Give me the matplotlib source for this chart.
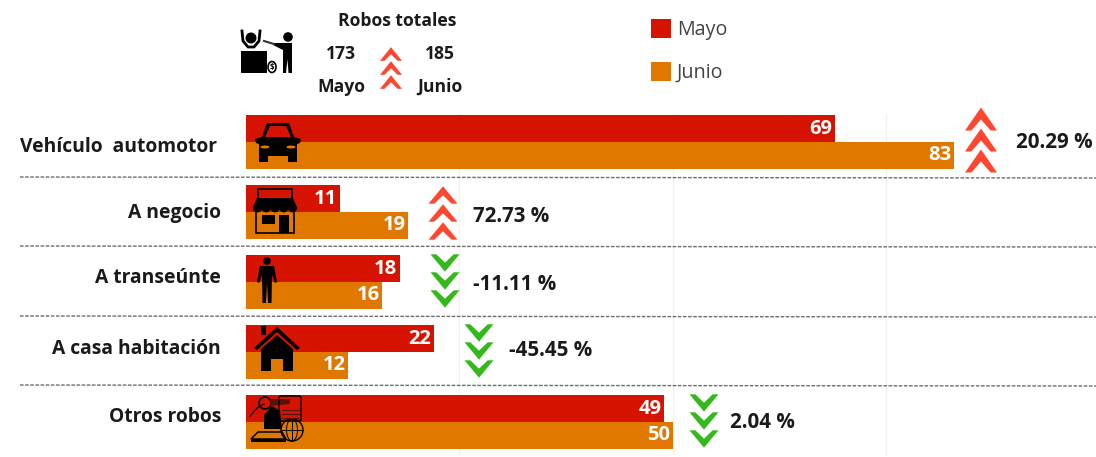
import matplotlib
matplotlib.use("Agg")
import matplotlib.pyplot as plt
from matplotlib.patches import Polygon, Rectangle, Circle, Ellipse, FancyBboxPatch

categories = ["Vehículo  automotor", "A negocio", "A transeúnte", "A casa habitación", "Otros robos"]
mayo = [69, 11, 18, 22, 49]
junio = [83, 19, 16, 12, 50]
cambio = ["20.29 %", "72.73 %", "-11.11 %", "-45.45 %", "2.04 %"]
sube = [True, True, False, False, False]
total_mayo = 173
total_junio = 185

RED = "#d61300"
ORANGE = "#e07800"
UP = "#ff4630"
DOWN = "#35b81c"
INK = "#1a1a1a"
W, H = 1096, 457

plt.rcParams["font.family"] = ["Open Sans", "DejaVu Sans"]
fig = plt.figure(figsize=(W / 100, H / 100), dpi=100, facecolor="white")

# bars: one row is 70 px, 8.53 px per unit
ax = fig.add_axes([246 / W, 1 - 457 / H, (W - 246) / W, 350 / H])
ax.set_xlim(0, (W - 246) / 8.53)
ax.set_ylim(len(categories), 0)
ax.axis("off")
for v in [25, 50, 75]:
    ax.plot([v, v], [0.1, 4.95], color="#f0f0f0", lw=0.9, zorder=0)
bar_h = 0.38
for i in range(len(categories)):
    ax.barh(i + 0.5 - bar_h / 2 - 0.005, mayo[i], height=bar_h, color=RED, zorder=2)
    ax.barh(i + 0.5 + bar_h / 2 + 0.005, junio[i], height=bar_h, color=ORANGE, zorder=2)
    ax.text(mayo[i] - 0.3, i + 0.5 - bar_h / 2, str(mayo[i]), color="white", fontsize=14.5,
            fontweight="bold", ha="right", va="center", zorder=3)
    ax.text(junio[i] - 0.3, i + 0.5 + bar_h / 2, str(junio[i]), color="white", fontsize=14.5,
            fontweight="bold", ha="right", va="center", zorder=3)

# everything else is placed in picture pixels
px = fig.add_axes([0, 0, 1, 1], zorder=5)
px.set_xlim(0, W)
px.set_ylim(H, 0)
px.axis("off")
px.patch.set_alpha(0)


def chevrons(cx, cy, up, w=30, step=20.5, ratio=0.72, thick=0.48):
    color = UP if up else DOWN
    h = w * ratio
    for k in (-1, 0, 1):
        y0 = cy + k * step
        s = -1 if up else 1
        top = y0 - s * h / 2
        tip = y0 + s * h / 2
        pts = [(cx - w / 2, top), (cx - w / 2 + w * 0.2, top), (cx, top + s * h * thick),
               (cx + w / 2 - w * 0.2, top), (cx + w / 2, top), (cx, tip)]
        px.add_patch(Polygon(pts, closed=True, color=color, lw=0))


def car(cx, cy):
    px.add_patch(Polygon([(cx - 23, cy - 3), (cx - 16, cy - 5), (cx - 11, cy - 19), (cx + 11, cy - 19),
                          (cx + 16, cy - 5), (cx + 23, cy - 3), (cx + 22, cy + 1), (cx + 19, cy + 2),
                          (cx + 19, cy + 14), (cx - 19, cy + 14), (cx - 19, cy + 2), (cx - 22, cy + 1)],
                         color="black", lw=0))
    px.add_patch(Polygon([(cx - 13, cy - 5), (cx - 8, cy - 16), (cx + 8, cy - 16), (cx + 13, cy - 5)],
                         color=RED, lw=0))
    px.add_patch(Rectangle((cx - 19, cy + 12), 9, 8, color="black", lw=0))
    px.add_patch(Rectangle((cx + 10, cy + 12), 9, 8, color="black", lw=0))
    px.add_patch(Ellipse((cx - 13, cy + 5), 9, 3, color=ORANGE, lw=0))
    px.add_patch(Ellipse((cx + 13, cy + 5), 9, 3, color=ORANGE, lw=0))


def shop(cx, cy):
    px.add_patch(Rectangle((cx - 17, cy - 21), 34, 10, fill=False, ec="black", lw=1.2))
    px.add_patch(Polygon([(cx - 18, cy - 12), (cx + 18, cy - 12), (cx + 22, cy - 2), (cx - 22, cy - 2)],
                         color="black", lw=0))
    for k in range(-2, 3):
        px.add_patch(Circle((cx + k * 8.8, cy - 2), 4.4, color="black", lw=0))
    px.add_patch(Rectangle((cx - 19, cy - 1), 38, 24, fill=False, ec="black", lw=1.2))
    px.add_patch(Rectangle((cx - 13, cy + 5), 13, 9, color="black", lw=0))
    px.add_patch(Rectangle((cx + 4, cy + 5), 10, 18, color="black", lw=0))


def person(cx, cy):
    px.add_patch(Circle((cx, cy - 20), 3.8, color="black", lw=0))
    px.add_patch(Polygon([(cx - 7, cy - 15), (cx + 7, cy - 15), (cx + 10, cy + 1), (cx + 8, cy + 2),
                          (cx + 5, cy - 6), (cx + 4.5, cy + 22), (cx + 1, cy + 22), (cx, cy + 2),
                          (cx - 1, cy + 22), (cx - 4.5, cy + 22), (cx - 5, cy - 6), (cx - 8, cy + 2),
                          (cx - 10, cy + 1)], color="black", lw=0))


def house(cx, cy):
    px.add_patch(Rectangle((cx - 16, cy - 24), 5, 9, color="black", lw=0))
    px.add_patch(Polygon([(cx - 23, cy - 2), (cx, cy - 23), (cx + 23, cy - 2), (cx + 20, cy),
                          (cx, cy - 18), (cx - 20, cy)], color="black", lw=0))
    px.add_patch(Polygon([(cx - 16, cy - 1), (cx, cy - 15), (cx + 16, cy - 1), (cx + 16, cy + 21),
                          (cx + 6, cy + 21), (cx + 6, cy + 9), (cx - 6, cy + 9), (cx - 6, cy + 21),
                          (cx - 16, cy + 21)], color="black", lw=0))


def otros(cx, cy):
    px.add_patch(Polygon([(cx - 12, cy - 4), (cx - 4, cy - 13), (cx + 4, cy - 8), (cx + 6, cy + 10),
                          (cx - 12, cy + 10)], color="black", lw=0))
    px.add_patch(Circle((cx - 11, cy - 16), 6, fill=False, ec="black", lw=1.2))
    px.add_patch(Polygon([(cx - 6, cy - 20), (cx + 14, cy - 20), (cx + 14, cy - 15), (cx - 6, cy - 13)],
                         color="#5a1208", lw=0))
    px.add_patch(FancyBboxPatch((cx + 3, cy - 23), 22, 25, boxstyle="round,pad=0,rounding_size=2",
                                fill=False, ec="black", lw=1))
    for k in range(3):
        px.plot([cx + 6, cx + 24], [cy - 9 + k * 4] * 2, color="#5a1208", lw=0.8)
    px.add_patch(Circle((cx + 16, cy + 11), 11, fill=False, ec="black", lw=1))
    px.plot([cx + 5, cx + 27], [cy + 11, cy + 11], color="black", lw=0.7)
    px.plot([cx + 16, cx + 16], [cy, cy + 22], color="black", lw=0.7)
    px.add_patch(Ellipse((cx + 16, cy + 11), 11, 22, fill=False, ec="black", lw=0.7))
    px.add_patch(Polygon([(cx - 25, cy + 20), (cx - 18, cy + 13), (cx + 6, cy + 13), (cx + 10, cy + 20)],
                         fill=False, ec="black", lw=1.1))
    px.add_patch(Rectangle((cx - 25, cy + 20), 35, 3, color="black", lw=0))
    px.plot([cx - 26, cx - 18, cx - 12], [cy - 3, cy - 12, cy - 15], color="black", lw=0.9)


def robber(cx, cy):
    # victim behind the desk, hands up
    px.add_patch(Circle((cx - 30, cy - 20), 5.5, color="black", lw=0))
    px.plot([cx - 39, cx - 38, cx - 33, cx - 27, cx - 22, cx - 21],
            [cy - 27, cy - 17, cy - 11, cy - 11, cy - 17, cy - 27], color="black", lw=2)
    px.add_patch(Rectangle((cx - 40, cy - 7), 26, 22, color="black", lw=0))
    # bag
    px.add_patch(Ellipse((cx - 9, cy + 9), 8, 11, fill=False, ec="black", lw=1.2))
    px.text(cx - 9, cy + 9, "$", fontsize=5.5, color="black", ha="center", va="center", fontweight="bold")
    # robber with gun
    px.add_patch(Circle((cx + 7, cy - 21), 4.8, color="black", lw=0))
    px.add_patch(Polygon([(cx + 1, cy - 15), (cx + 11, cy - 15), (cx + 11, cy + 15), (cx + 7.5, cy + 15),
                          (cx + 6.5, cy + 1), (cx + 5, cy + 15), (cx + 2, cy + 15), (cx + 2, cy - 8),
                          (cx - 8, cy - 13), (cx - 7, cy - 15)], color="black", lw=0))
    px.plot([cx - 17, cx - 7], [cy - 17, cy - 14], color="#333333", lw=1.5)


# separators
for y in [177, 246, 316, 385]:
    px.plot([20, W], [y, y + 1], color="#6e6e6e", lw=1.0, ls=(0, (2.6, 1.1)))

# row labels and change markers
label_right = 221
label_y = [147, 213, 278, 349, 417]
chev_x = [981, 443, 445, 479, 704]
chev_y = [140, 213, 281, 351, 421]
pct_x = [1016, 473, 473, 509, 730]
pct_y = [142, 217, 284, 350, 423]
for i, name in enumerate(categories):
    if i == 0:
        px.text(20, label_y[i], name, fontsize=13.9, fontweight="bold", color=INK, ha="left", va="center")
    else:
        px.text(label_right, label_y[i], name, fontsize=13.9, fontweight="bold", color=INK, ha="right", va="center")
    chevrons(chev_x[i], chev_y[i], sube[i], w=32 if i == 0 else 29, step=21 if i == 0 else 18,
             ratio=0.72 if i == 0 else 0.6)
    px.text(pct_x[i], pct_y[i], cambio[i], fontsize=14.8, fontweight="bold", color=INK, ha="left", va="center")

car(278, 142)
shop(275, 210)
person(267, 281)
house(277, 350)
otros(276, 419)
robber(281, 58)

# top header
px.text(397, 21, "Robos totales", fontsize=12.6, fontweight="bold", color=INK, ha="center", va="center")
px.text(341, 54, str(total_mayo), fontsize=12.6, fontweight="bold", color=INK, ha="center", va="center")
px.text(440, 54, str(total_junio), fontsize=12.6, fontweight="bold", color=INK, ha="center", va="center")
px.text(341, 87, "Mayo", fontsize=12.6, fontweight="bold", color=INK, ha="center", va="center")
px.text(440, 87, "Junio", fontsize=12.6, fontweight="bold", color=INK, ha="center", va="center")
chevrons(391, 68, True, w=22, step=14, ratio=0.62)

# legend
px.add_patch(Rectangle((651, 19), 20, 19, color=RED, lw=0))
px.add_patch(Rectangle((651, 62), 20, 19, color=ORANGE, lw=0))
px.text(677, 30, "Mayo", fontsize=14.2, color="#444444", ha="left", va="center")
px.text(677, 73, "Junio", fontsize=14.2, color="#444444", ha="left", va="center")

fig.savefig("out.png", dpi=100, facecolor="white")
